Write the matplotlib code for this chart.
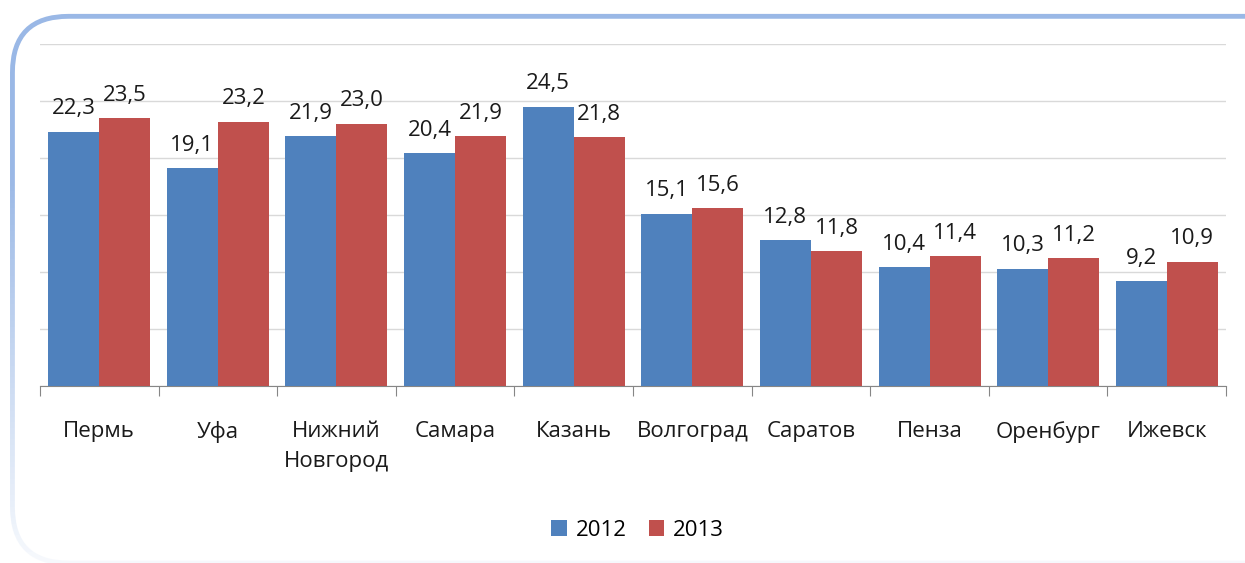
import numpy as np
import matplotlib.pyplot as plt
from matplotlib.patches import FancyBboxPatch

# ------------------------------------------
# Data
# ------------------------------------------

cities = ["Пермь", "Уфа", "Нижний\nНовгород", "Самара", "Казань",
          "Волгоград", "Саратов", "Пенза", "Оренбург", "Ижевск"]
values_2012 = [22.3, 19.1, 21.9, 20.4, 24.5, 15.1, 12.8, 10.4, 10.3, 9.2]
values_2013 = [23.5, 23.2, 23.0, 21.9, 21.8, 15.6, 11.8, 11.4, 11.2, 10.9]
series_names = ["2012", "2013"]

blue = "#4f81bd"
red = "#c0504d"
fs = 16

plt.rcParams["font.family"] = ["Open Sans", "DejaVu Sans"]

fig = plt.figure(figsize=(12.45, 5.63), dpi=100)

# ------------------------------------------
# Background: rounded frame fading downwards
# ------------------------------------------
bg = fig.add_axes([0, 0, 1, 1], zorder=-1)
bg.set_xlim(0, 1)
bg.set_ylim(0, 1)
bg.axis("off")

frame = FancyBboxPatch(
    (0.010, 0.0), 1.05, 0.971,
    boxstyle="round,pad=0,rounding_size=0.045",
    mutation_aspect=12.45 / 5.63,
    facecolor="none", edgecolor="#9ab8e6", linewidth=3.5
)
bg.add_patch(frame)

fade = np.zeros((100, 1, 4))
fade[..., :3] = 1.0
fade[:, 0, 3] = np.clip(np.linspace(0.92, -0.4, 100), 0, 1)
bg.imshow(fade, extent=(0, 1, 0, 1), aspect="auto", origin="lower", zorder=5)

# ------------------------------------------
# Bars
# ------------------------------------------
ax = fig.add_axes([0.0321, 0.3144, 0.9527, 0.6074])
ax.set_facecolor("none")

x = np.arange(len(cities))
w = 0.43

b1 = ax.bar(x - w / 2, values_2012, w, color=blue, label=series_names[0], zorder=3)
b2 = ax.bar(x + w / 2, values_2013, w, color=red, label=series_names[1], zorder=3)

for bars, vals in [(b1, values_2012), (b2, values_2013)]:
    for bar, v in zip(bars, vals):
        ax.annotate(
            f"{v:.1f}".replace(".", ","),
            (bar.get_x() + bar.get_width() / 2, bar.get_height()),
            xytext=(0, 9), textcoords="offset points",
            ha="center", va="bottom", fontsize=fs, color="#1a1a1a"
        )

ax.set_xlim(-0.5, len(cities) - 0.5)
ax.set_ylim(0, 30)
ax.set_yticks(np.arange(0, 31, 5))
ax.yaxis.grid(True, color="#d9d9d9", linewidth=1, zorder=0)
ax.tick_params(axis="y", left=False, labelleft=False)

for s in ["top", "right", "left"]:
    ax.spines[s].set_visible(False)
ax.spines["bottom"].set_color("#868686")

ax.set_xticks(np.arange(-0.5, len(cities), 1))
ax.set_xticklabels([])
ax.tick_params(axis="x", which="major", length=7, color="#868686")
ax.set_xticks(x, minor=True)
ax.set_xticklabels(cities, minor=True, fontsize=fs, color="#1a1a1a",
                   linespacing=1.55, va="top")
ax.tick_params(axis="x", which="minor", length=0, pad=25)

fig.legend(
    handles=[b1, b2], labels=series_names,
    loc="center", bbox_to_anchor=(0.512, 0.058), ncol=2,
    frameon=False, fontsize=fs, handlelength=0.7, handleheight=0.7,
    handletextpad=0.4, columnspacing=1.0
)

plt.savefig("out.png", dpi=100)
